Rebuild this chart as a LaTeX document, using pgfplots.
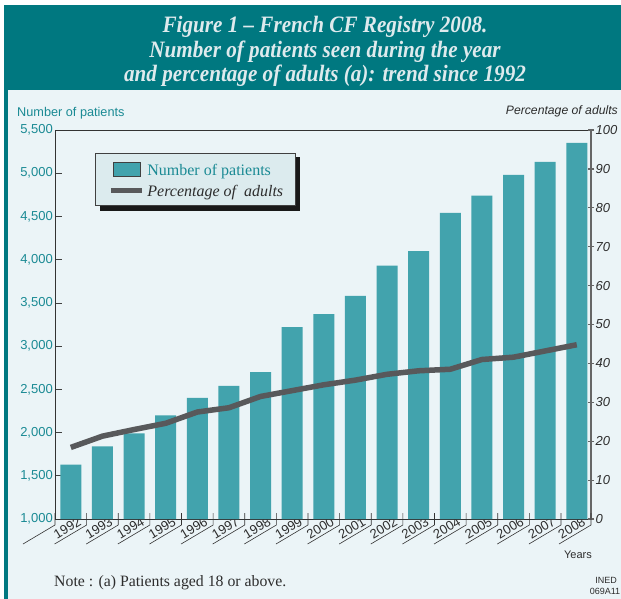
\documentclass[border=0pt]{standalone}
\usepackage{pgfplots}
\pgfplotsset{compat=1.18}
\usepackage{fontspec}
\setmainfont{Liberation Serif}
\setsansfont{Liberation Sans}
\newfontfamily\titlefont[FakeStretch=0.9, Ligatures=TeX]{Liberation Serif}
\definecolor{band}{RGB}{0,120,128}
\definecolor{bgc}{RGB}{235,244,247}
\definecolor{barc}{RGB}{66,163,173}
\definecolor{tealtxt}{RGB}{26,138,148}
\definecolor{linec}{RGB}{88,89,91}
\definecolor{legbg}{RGB}{220,235,238}
\definecolor{titletxt}{RGB}{222,234,237}
\definecolor{dgrey}{RGB}{45,45,45}
\begin{document}
\begin{tikzpicture}
\useasboundingbox (0,0) rectangle (621pt,-599pt);
\fill[white] (0,0) rectangle (621pt,-599pt);
\fill[bgc] (4pt,-90pt) rectangle (621pt,-599pt);
\fill[band] (4pt,-5pt) rectangle (621pt,-90pt);
\fill[band] (4pt,-90pt) rectangle (8pt,-599pt);
\begin{scope}[every node/.style={anchor=base, text=titletxt, font=\titlefont\fontsize{23.5}{26}\selectfont\bfseries\itshape, inner sep=0pt}]
\node at (325pt,-33pt) {Figure 1 – French CF Registry 2008.};
\node at (325pt,-57.5pt) {Number of patients seen during the year};
\node at (325pt,-82pt) {and percentage of adults (a): trend since 1992};
\end{scope}
% legend shadow
\fill[black!90] (100pt,-157pt) rectangle (300pt,-211pt);

\begin{axis}[
  at={(55pt,-519pt)}, anchor=south west, scale only axis,
  width=536pt, height=389pt,
  xmin=-0.5, xmax=16.45, ymin=1000, ymax=5500,
  ytick={1000,1500,2000,2500,3000,3500,4000,4500,5000,5500},
  ytick pos=left,
  /pgf/number format/assume math mode=true,
  yticklabel style={/pgf/number format/1000 sep={,}, font=\sffamily\fontsize{13}{15}\selectfont, text=tealtxt, inner sep=2pt},
  tick align=inside, major tick length=7pt,
  ytick style={draw=black!75, line width=0.6pt},
  xtick={0.5,1.5,2.5,3.5,4.5,5.5,6.5,7.5,8.5,9.5,10.5,11.5,12.5,13.5,14.5,15.5,16.45},
  xticklabels={1992,1993,1994,1995,1996,1997,1998,1999,2000,2001,2002,2003,2004,2005,2006,2007,2008},
  xtick style={draw=none},
  xticklabel style={xshift=-4pt, yshift=-5pt, rotate=31, anchor=base east, inner sep=0.5pt, font=\sffamily\fontsize{13}{15}\selectfont, text=dgrey},
  axis line style={draw=black!80, line width=0.7pt},
  legend style={at={(rel axis cs:0.0746,0.9409)}, anchor=north west,
    fill=legbg, draw=black!75, line width=0.8pt,
    inner xsep=13pt, inner ysep=7pt, row sep=5pt, column sep=3pt,
    nodes={inner sep=0pt},
    font=\fontsize{16}{18}\selectfont},
  legend cell align=left,
]
\addplot[ybar, bar width=21pt, bar shift=0pt, fill=barc, draw=none,
  legend image code/.code={\path[draw=none,fill=none] (-2pt,-6pt) rectangle (31pt,10pt); \draw[fill=barc, draw=black!75, line width=0.6pt] (0pt,-5.6pt) rectangle (27pt,8.4pt);}]
  coordinates {(0,1630) (1,1840) (2,1990) (3,2200) (4,2400) (5,2540) (6,2700) (7,3220) (8,3370) (9,3580) (10,3930) (11,4100) (12,4540) (13,4740) (14,4980) (15,5130) (16,5350)};
\addlegendentry{\makebox[135pt][l]{\textcolor{tealtxt}{Number of patients}}}
\addlegendimage{legend image code/.code={\path[draw=none,fill=none] (-2pt,-6pt) rectangle (31pt,10pt); \draw[line width=5pt, draw=linec, fill=none] (-2pt,1.4pt) -- (29pt,1.4pt);}}
\addlegendentry{\makebox[135pt][l]{\textcolor{dgrey}{\itshape Percentage of\ \ adults}}}
\end{axis}

\begin{axis}[
  at={(55pt,-519pt)}, anchor=south west, scale only axis,
  width=536pt, height=389pt,
  xmin=-0.5, xmax=16.45, ymin=0, ymax=100,
  axis x line=none, axis y line*=right,
  ytick={0,10,...,100},
  /pgf/number format/assume math mode=true,
  yticklabel style={font=\sffamily\itshape\fontsize{13}{15}\selectfont, text=dgrey, inner sep=1.5pt},
  tick align=center, major tick length=6pt,
  ytick style={draw=black!60, line width=1.2pt},
  axis line style={draw=black!60, line width=1.4pt},
  clip=false,
]
\addplot[line width=5.5pt, linec, line join=round]
  coordinates {(0,18.4) (1,21.3) (2,23.0) (3,24.6) (4,27.5) (5,28.6) (6,31.5) (7,33.0) (8,34.5) (9,35.7) (10,37.2) (11,38.1) (12,38.5) (13,41.0) (14,41.6) (15,43.2) (16,44.8)};
\pgfplotsinvokeforeach{-0.5,0.5,1.5,2.5,3.5,4.5,5.5,6.5,7.5,8.5,9.5,10.5,11.5,12.5,13.5,14.5,15.5,16.45}{
  \draw[black!80, line width=0.6pt] (axis cs:#1,0) ++(0pt,6pt) -- ++(0pt,-12pt) -- ++(-32pt,-19pt);
}
\end{axis}

\node[anchor=base west, inner sep=0pt, text=tealtxt, font=\sffamily\fontsize{12.7}{14}\selectfont] at (17pt,-117pt) {Number of patients};
\node[anchor=base east, inner sep=0pt, text=dgrey, font=\sffamily\itshape\fontsize{12.2}{14}\selectfont] at (618pt,-115pt) {Percentage of adults};
\node[anchor=base east, inner sep=0pt, text=dgrey, font=\sffamily\fontsize{11}{13}\selectfont] at (592pt,-558pt) {Years};
\node[anchor=base west, inner sep=0pt, text=dgrey, font=\fontsize{15.8}{18}\selectfont] at (54pt,-586pt) {Note : (a) Patients aged 18 or above.};
\node[anchor=base, inner sep=0pt, text=dgrey, font=\sffamily\fontsize{9}{10}\selectfont] at (606pt,-583pt) {INED};
\node[anchor=base, inner sep=0pt, text=dgrey, font=\sffamily\fontsize{9}{10}\selectfont] at (605pt,-594pt) {069A11};
\end{tikzpicture}
\end{document}
